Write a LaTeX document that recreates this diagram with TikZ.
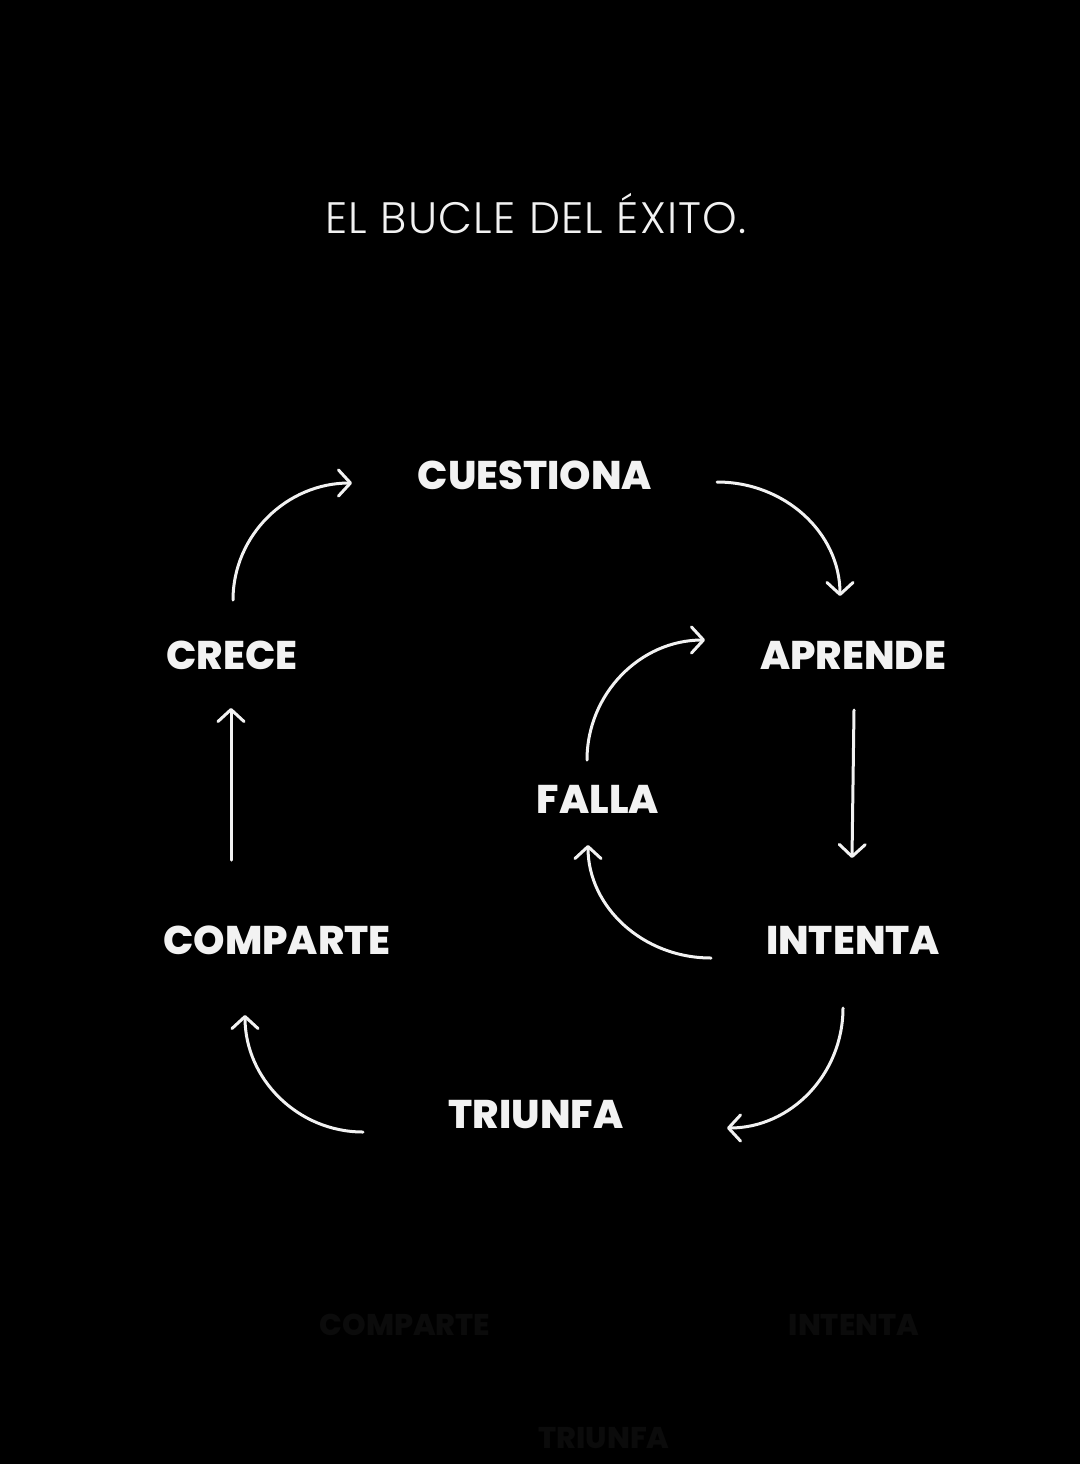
\documentclass[tikz,border=0pt]{standalone}
\usepackage{fontspec}
\usetikzlibrary{arrows.meta}
\setmainfont{Poppins}
\IfFontExistsTF{Poppins Light}{\newfontfamily\titlefont{Poppins Light}[LetterSpace=3]}{\newfontfamily\titlefont{Poppins}[LetterSpace=3]}
\IfFontExistsTF{Poppins ExtraBold}{\newfontfamily\labfont{Poppins ExtraBold}}{\newfontfamily\labfont{Poppins}[UprightFont=*, UprightFeatures={FakeBold=0}]\let\labfontorig\labfont\def\labfont{\labfontorig\bfseries}}
\definecolor{ink}{RGB}{242,242,242}
\definecolor{ghost}{RGB}{11,11,11}
\tikzset{
  lab/.style={text=ink, font=\labfont\fontsize{40}{40}\selectfont, inner sep=0pt},
  ghostlab/.style={text=ghost, font=\labfont\fontsize{30}{30}\selectfont, inner sep=0pt},
  arr/.style={draw=ink, line width=3pt, line cap=round,
    -{Straight Barb[length=12pt,width=26pt,line width=3pt,round]}}
}
\begin{document}
\begin{tikzpicture}[x=1pt,y=-1pt]
\useasboundingbox (0,0) rectangle (1080,1464);
\fill[black] (0,0) rectangle (1080,1464);
% title
\node[text=ink, font=\titlefont\fontsize{44}{44}\selectfont, inner sep=0pt, anchor=base] (title) at (536,233) {EL BUCLE DEL ÉXITO.};
% labels
\node[lab] (cuestiona) at (535,475) {CUESTIONA};
\node[lab] (aprende) at (853,655) {APRENDE};
\node[lab] (crece) at (232,655) {CRECE};
\node[lab] (falla) at (598,799) {FALLA};
\node[lab] (intenta) at (853,940) {INTENTA};
\node[lab] (comparte) at (277,940) {COMPARTE};
\node[lab] (triunfa) at (536,1115) {TRIUNFA};
% faint ghosts
\node[ghostlab] (gcomparte) at (405,1325) {COMPARTE};
\node[ghostlab] (gintenta) at (854,1325) {INTENTA};
\node[ghostlab] (gtriunfa) at (604,1438) {TRIUNFA};
% arrow end points
\coordinate (a1s) at (233,600); \coordinate (a1e) at (352,483);
\coordinate (a2s) at (717,482); \coordinate (a2e) at (840,596);
\coordinate (a3s) at (854,710); \coordinate (a3e) at (852,858);
\coordinate (a4s) at (711,958); \coordinate (a4e) at (588,845);
\coordinate (a5s) at (587,760); \coordinate (a5e) at (705,640);
\coordinate (a6s) at (843,1008); \coordinate (a6e) at (727,1128);
\coordinate (a7s) at (363,1132); \coordinate (a7e) at (245,1015);
\coordinate (a8s) at (231,860); \coordinate (a8e) at (231,708);
% arrows
\draw[arr] (a1s) .. controls (233,535) and (287,483) .. (a1e);
\draw[arr] (a2s) .. controls (785,482) and (840,533) .. (a2e);
\draw[arr] (a3s) -- (a3e);
\draw[arr] (a4s) .. controls (643,958) and (588,907) .. (a4e);
\draw[arr] (a5s) .. controls (587,694) and (640,640) .. (a5e);
\draw[arr] (a6s) .. controls (843,1074) and (791,1128) .. (a6e);
\draw[arr] (a7s) .. controls (298,1132) and (245,1079) .. (a7e);
\draw[arr] (a8s) -- (a8e);
\end{tikzpicture}
\end{document}
